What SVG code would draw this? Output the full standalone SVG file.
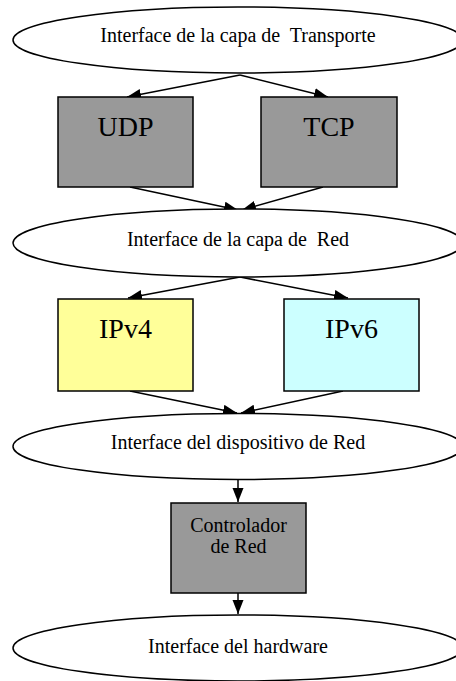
<svg xmlns="http://www.w3.org/2000/svg" width="456" height="681" viewBox="0 0 456 681">
<style>
.ell{fill:#ffffff;stroke:#000;stroke-width:1.5}
.box{stroke:#000;stroke-width:1.5}
.gray{fill:#999999}
.yel{fill:#ffff99}
.cyan{fill:#ccffff}
text{font-family:"Liberation Serif","Times New Roman",serif;fill:#000;text-anchor:middle;white-space:pre}
.t20{font-size:20px}
.t28{font-size:28px}
.edge{stroke:#000;stroke-width:1.5;fill:none;marker-end:url(#arr)}
</style>
<defs>
<marker id="arr" markerUnits="userSpaceOnUse" markerWidth="16" markerHeight="12" refX="14" refY="5.5" orient="auto">
<path d="M0,0 L14,5.5 L0,11 z" fill="#000"/>
</marker>
</defs>
<rect width="456" height="681" fill="#fff"/>
<g id="connectors">
<path class="edge" d="M240,75 L127,97"/>
<path class="edge" d="M240,75 L328,97"/>
<path class="edge" d="M130,187 L238,210"/>
<path class="edge" d="M323,187 L242,210"/>
<path class="edge" d="M240,277 L128,298"/>
<path class="edge" d="M240,277 L348,298"/>
<path class="edge" d="M130,391 L237,413"/>
<path class="edge" d="M343,391 L241,413"/>
<path class="edge" d="M238,480 L238,502"/>
<path class="edge" d="M238,593 L238,614"/>
</g>
<g id="transport">
<ellipse class="ell" cx="238" cy="40" rx="225" ry="33"/>
<text class="t20" x="238" y="42" xml:space="preserve">Interface de la capa de  Transporte</text>
</g>
<g id="udp">
<rect class="box gray" x="58" y="97" width="135" height="90"/>
<text class="t28" x="125.5" y="136">UDP</text>
</g>
<g id="tcp">
<rect class="box gray" x="261" y="97" width="136" height="90"/>
<text class="t28" x="329" y="136">TCP</text>
</g>
<g id="red">
<ellipse class="ell" cx="238" cy="243" rx="225" ry="34"/>
<text class="t20" x="238" y="246" xml:space="preserve">Interface de la capa de  Red</text>
</g>
<g id="ipv4">
<rect class="box yel" x="58" y="299" width="135" height="92"/>
<text class="t28" x="125.5" y="338">IPv4</text>
</g>
<g id="ipv6">
<rect class="box cyan" x="284" y="299" width="135" height="92"/>
<text class="t28" x="351.5" y="338">IPv6</text>
</g>
<g id="dispositivo">
<ellipse class="ell" cx="238" cy="446.5" rx="225" ry="33"/>
<text class="t20" x="238" y="449">Interface del dispositivo de Red</text>
</g>
<g id="controlador">
<rect class="box gray" x="171" y="503" width="135" height="90"/>
<text class="t20" x="238.5" y="532">Controlador</text>
<text class="t20" x="238.5" y="553">de Red</text>
</g>
<g id="hardware">
<ellipse class="ell" cx="238" cy="648" rx="225" ry="33"/>
<text class="t20" x="238" y="653">Interface del hardware</text>
</g>
</svg>
